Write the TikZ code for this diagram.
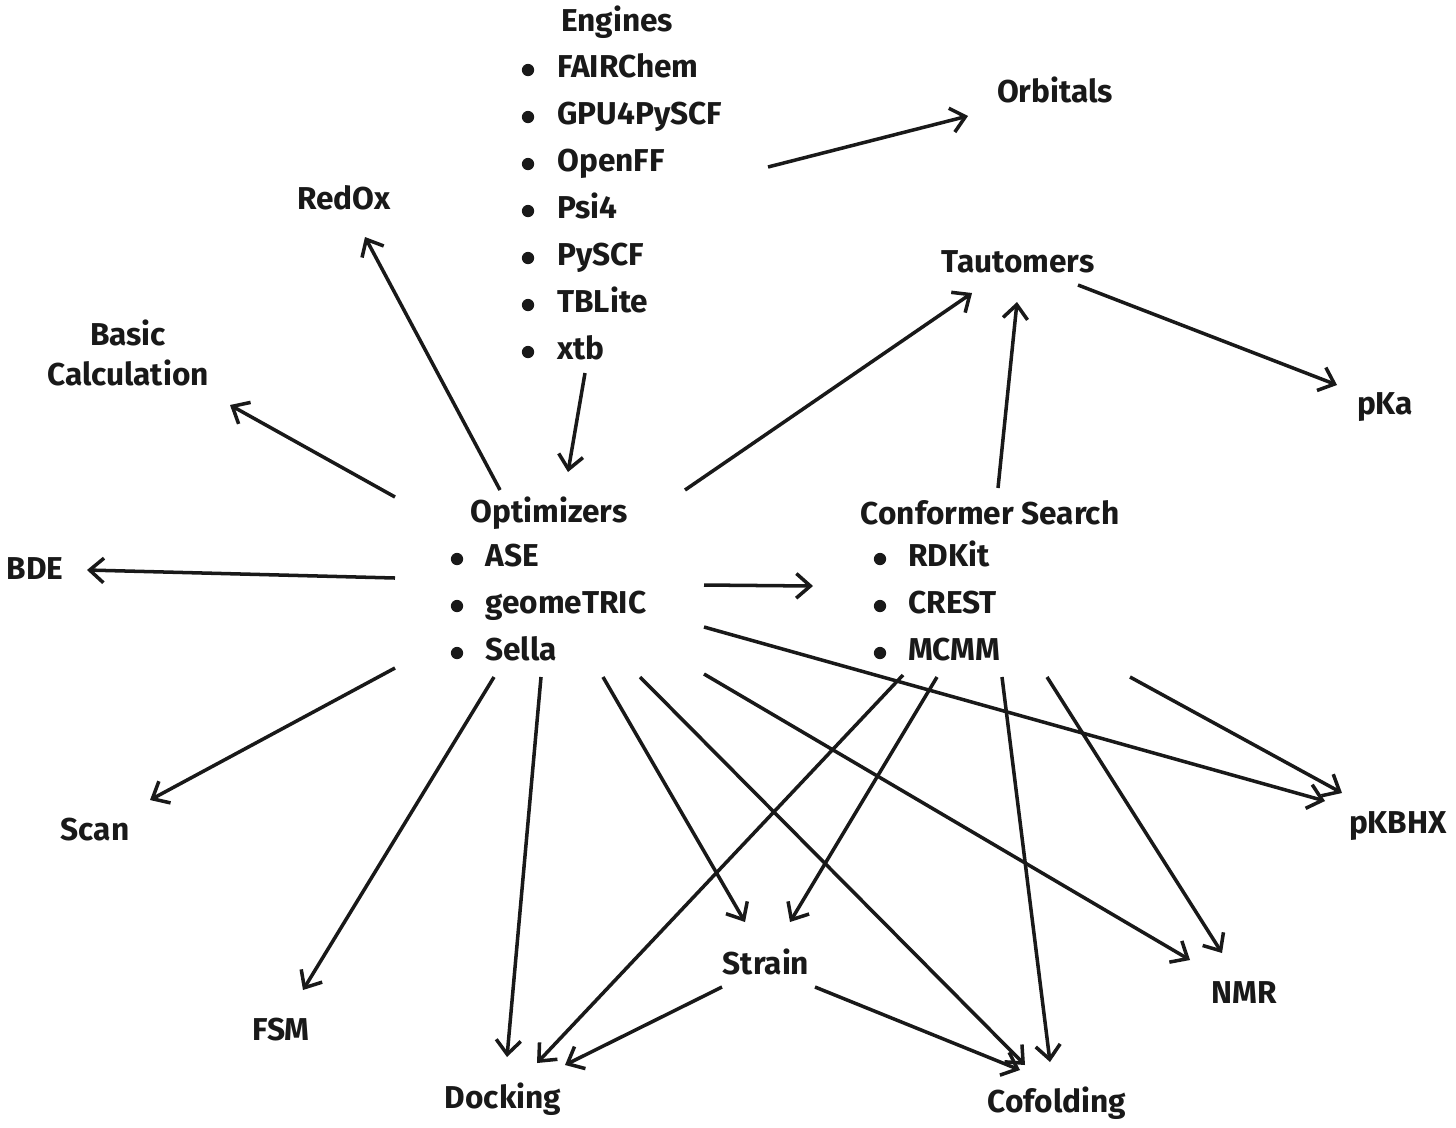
\documentclass[tikz,border=0pt]{standalone}
\usepackage{fontspec}
\setmainfont{Fira Sans}
\usetikzlibrary{arrows.meta}
\tikzset{
  lbl/.style={font=\fontsize{18}{23}\selectfont\bfseries, inner sep=0pt, text=black!90},
  item/.style={lbl, anchor=west, text height=13pt, text depth=4pt},
  dot/.style={fill=black!90, circle, inner sep=0pt, minimum size=7pt},
  flow/.style={line width=2pt, black!90, -{Straight Barb[length=8pt, width=14pt, line width=2pt]}}
}
\begin{document}
\begin{tikzpicture}[x=0.02cm, y=-0.02cm]
			\useasboundingbox (0,0) rectangle (1456,1127);
			% engines
			\node[lbl] (eng) at (617,22) {Engines};
			\foreach \t [count=\i] in {FAIRChem,GPU4PySCF,OpenFF,Psi4,PySCF,TBLite,xtb} {
				\node[dot] at (528,23+47*\i) {};
				\node[item] (eng\i) at (557,23+47*\i) {\t};
			}
			% optimizers
			\node[lbl] (opt) at (549,513) {Optimizers};
			\foreach \t [count=\i] in {ASE,geomeTRIC,Sella} {
				\node[dot] at (457,512+47*\i) {};
				\node[item] (opt\i) at (485,512+47*\i) {\t};
			}
			% conformer search
			\node[lbl] (conf) at (990,513) {Conformer Search};
			\foreach \t [count=\i] in {RDKit,CREST,MCMM} {
				\node[dot] at (880,512+47*\i) {};
				\node[item] (conf\i) at (908,512+47*\i) {\t};
			}
			% targets
			\node[lbl] (orb) at (1055,90) {Orbitals};
			\node[lbl] (redox) at (344,198) {RedOx};
			\node[lbl] (taut) at (1018,262) {Tautomers};
			\node[lbl, align=center] (basic) at (128,353) {Basic\\Calculation};
			\node[lbl] (pka) at (1385,407) {pKa};
			\node[lbl] (bde) at (35,569) {BDE};
			\node[lbl] (scan) at (95,830) {Scan};
			\node[lbl] (pkbhx) at (1398,826) {pKBHX};
			\node[lbl] (strain) at (766,962) {Strain};
			\node[lbl] (nmr) at (1244,993) {NMR};
			\node[lbl] (fsm) at (281,1030) {FSM};
			\node[lbl] (dock) at (503,1099) {Docking};
			\node[lbl] (cofold) at (1057,1103) {Cofolding};
			% arrows
			\draw[flow] (585,373) -- (568,472);
			\draw[flow] (768,167) -- (968,116);
			\draw[flow] (685,490) -- (972,293);
			\draw[flow] (998,488) -- (1017,302);
			\draw[flow] (1078,285) -- (1337,385);
			\draw[flow] (500,490) -- (365,237);
			\draw[flow] (395,497) -- (230,405);
			\draw[flow] (395,578) -- (87,570);
			\draw[flow] (704,585) -- (813,586);
			\draw[flow] (704,627) -- (1325,801);
			\draw[flow] (395,668) -- (150,800);
			\draw[flow] (494,677) -- (303,990);
			\draw[flow] (541,677) -- (507,1057);
			\draw[flow] (603,677) -- (745,922);
			\draw[flow] (640,677) -- (1025,1065);
			\draw[flow] (704,674) -- (1190,960);
			\draw[flow] (903,675) -- (537,1063);
			\draw[flow] (937,677) -- (790,922);
			\draw[flow] (1002,677) -- (1050,1062);
			\draw[flow] (1047,677) -- (1222,953);
			\draw[flow] (1130,677) -- (1342,793);
			\draw[flow] (722,987) -- (565,1065);
			\draw[flow] (815,987) -- (1020,1070);
		\end{tikzpicture}
\end{document}
